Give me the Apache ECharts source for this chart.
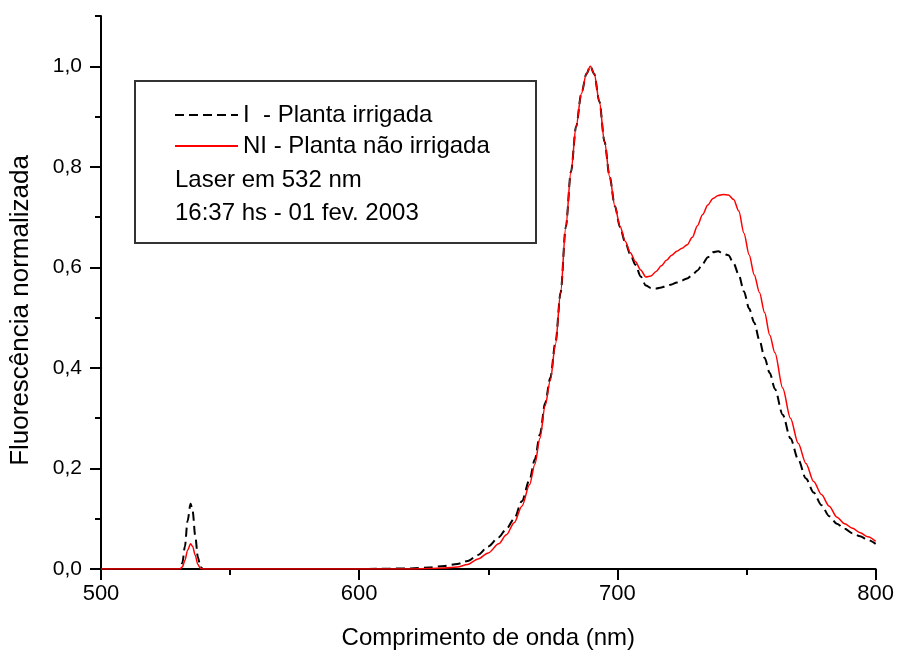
<!DOCTYPE html>
<html>
<head>
<meta charset="utf-8">
<script src="https://cdn.jsdelivr.net/npm/echarts@6/dist/echarts.min.js"></script>
<style>
  html, body { margin: 0; padding: 0; background: #fff; }
  #chart { width: 897px; height: 655px; }
</style>
</head>
<body>
<div id="chart"></div>
<script>
// comprimento de onda (nm)
var wl = [500, 520, 530.5, 531.5, 532.5, 533.5, 534.7, 535.5, 536.5, 537.5, 538.5, 539.5,
  560, 600, 620, 627, 633, 638, 642, 646, 650, 654, 657, 660, 663, 666, 668, 670, 672, 674, 676, 678,
  680, 682, 684, 686, 688, 689.5, 691, 693, 695, 697, 699, 701, 703, 705, 707, 709, 711, 713, 715,
  717, 719, 721, 723, 725, 727, 729, 731, 733, 735, 737, 739, 741, 743, 745, 747, 749, 751,
  753, 755, 757, 759, 761, 764, 767, 770, 773, 776, 779, 782, 785, 788, 791, 794, 797, 800];

// I - Planta irrigada
var irrigada = [0, 0, 0, 0.012, 0.045, 0.095, 0.13, 0.115, 0.066, 0.024, 0.004, 0,
  0, 0, 0.001, 0.003, 0.006, 0.01, 0.016, 0.028, 0.045, 0.063, 0.08, 0.1, 0.135, 0.178, 0.218, 0.268, 0.33, 0.38, 0.45, 0.55,
  0.68, 0.79, 0.88, 0.945, 0.985, 1.0, 0.985, 0.93, 0.85, 0.78, 0.722, 0.68, 0.65, 0.626, 0.605, 0.582, 0.564, 0.559, 0.558,
  0.56, 0.563, 0.566, 0.57, 0.574, 0.578, 0.585, 0.594, 0.607, 0.62, 0.63, 0.632, 0.627, 0.624, 0.608, 0.585, 0.552, 0.518,
  0.49, 0.455, 0.42, 0.39, 0.358, 0.307, 0.26, 0.218, 0.18, 0.152, 0.127, 0.105, 0.09, 0.08, 0.071, 0.065, 0.058, 0.05];

// NI - Planta nao irrigada
var naoIrrigada = [0, 0, 0, 0.004, 0.017, 0.037, 0.05, 0.045, 0.027, 0.009, 0.001, 0,
  0, 0, 0, 0.001, 0.002, 0.004, 0.009, 0.02, 0.032, 0.05, 0.068, 0.092, 0.125, 0.168, 0.208, 0.26, 0.325, 0.375, 0.447, 0.55,
  0.68, 0.79, 0.88, 0.945, 0.985, 1.0, 0.985, 0.93, 0.85, 0.78, 0.722, 0.682, 0.652, 0.629, 0.611, 0.595, 0.581, 0.583, 0.592,
  0.603, 0.614, 0.624, 0.632, 0.638, 0.645, 0.66, 0.683, 0.705, 0.724, 0.737, 0.743, 0.745, 0.744, 0.735, 0.712, 0.668, 0.625,
  0.585, 0.55, 0.51, 0.465, 0.43, 0.36, 0.3, 0.25, 0.21, 0.174, 0.148, 0.125, 0.103, 0.09, 0.081, 0.072, 0.064, 0.055];

var yMajor = [0, 0.2, 0.4, 0.6, 0.8, 1.0];
var yMinor = [0.1, 0.3, 0.5, 0.7, 0.9, 1.1];

var font = 'Liberation Sans, Arial, sans-serif';

var chart = echarts.init(document.getElementById('chart'));

function pares(ys) {
  return wl.map(function (x, i) { return [x, ys[i]]; });
}

var option = {
  animation: false,
  backgroundColor: '#fff',
  grid: { left: 101, right: 19, top: 16, bottom: 83 },
  legend: {
    orient: 'vertical',
    left: 169,
    top: 98,
    itemWidth: 63,
    itemHeight: 14,
    itemGap: 7,
    itemStyle: { opacity: 0 },
    textStyle: { fontFamily: font, fontSize: 24, color: '#000' },
    data: ['I  - Planta irrigada', 'NI - Planta não irrigada']
  },
  xAxis: [{
    type: 'value',
    min: 500,
    max: 800,
    interval: 100,
    name: 'Comprimento de onda (nm)',
    nameLocation: 'middle',
    nameGap: 57,
    nameTextStyle: { fontFamily: font, fontSize: 24, color: '#000' },
    axisLine: { show: true, lineStyle: { color: '#000', width: 2 } },
    axisTick: { show: true, inside: false, length: 11, lineStyle: { color: '#000', width: 2 } },
    minorTick: { show: true, splitNumber: 2, length: 6, lineStyle: { color: '#000', width: 2 } },
    axisLabel: { fontFamily: font, fontSize: 22, color: '#000', margin: 14 },
    splitLine: { show: false }
  }],
  yAxis: [{
    type: 'value',
    min: 0,
    max: 1.1,
    interval: 0.2,
    name: 'Fluorescência normalizada',
    nameLocation: 'middle',
    nameGap: 67,
    nameTextStyle: { fontFamily: font, fontSize: 26, color: '#000', padding: [0, 36, 0, 0] },
    axisLine: { show: true, lineStyle: { color: '#000', width: 2 } },
    axisTick: { show: true, inside: false, length: 11, customValues: yMajor,
      lineStyle: { color: '#000', width: 2 } },
    axisLabel: {
      fontFamily: font, fontSize: 21, color: '#000', margin: 19,
      customValues: yMajor,
      formatter: function (v) { return v.toFixed(1).replace('.', ','); }
    },
    splitLine: { show: false }
  }, {
    type: 'value',
    position: 'left',
    min: 0,
    max: 1.1,
    interval: 0.1,
    axisLine: { show: false },
    axisTick: { show: true, inside: false, length: 6, customValues: yMinor,
      lineStyle: { color: '#000', width: 2 } },
    axisLabel: { show: false },
    splitLine: { show: false }
  }],
  graphic: [{
    type: 'rect',
    shape: { x: 135, y: 81, width: 401, height: 162 },
    style: { fill: 'none', stroke: '#333', lineWidth: 2 },
    z: 10
  }, {
    type: 'text',
    x: 175, y: 180,
    style: { text: 'Laser em 532 nm', font: '24px ' + font, fill: '#000', verticalAlign: 'middle' },
    z: 10
  }, {
    type: 'text',
    x: 175, y: 213,
    style: { text: '16:37 hs - 01 fev. 2003', font: '24px ' + font, fill: '#000', verticalAlign: 'middle' },
    z: 10
  }],
  series: [{
    name: 'I  - Planta irrigada',
    type: 'line',
    data: pares(irrigada),
    symbol: 'none',
    smooth: 0.3,
    smoothMonotone: 'x',
    lineStyle: { color: '#000', width: 2, type: [9, 5] },
    itemStyle: { color: '#000' }
  }, {
    name: 'NI - Planta não irrigada',
    type: 'line',
    data: pares(naoIrrigada),
    symbol: 'none',
    smooth: 0.3,
    smoothMonotone: 'x',
    lineStyle: { color: '#ff0000', width: 1.5 },
    itemStyle: { color: '#ff0000' }
  }]
};

chart.setOption(option);
</script>
</body>
</html>
